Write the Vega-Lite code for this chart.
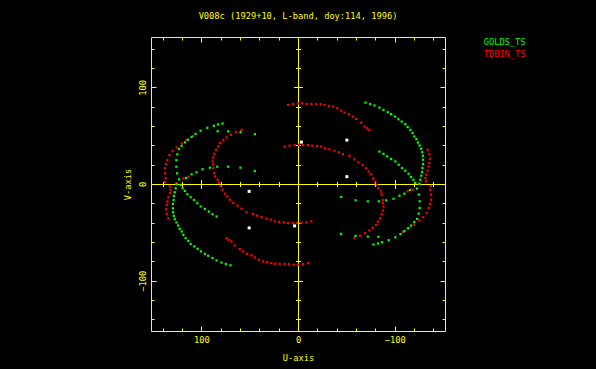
{
"$schema":"https://vega.github.io/schema/vega-lite/v6.json",
"width":294,"height":294,
"autosize":{"type":"none"},
"padding":{"left":151,"top":37,"right":151,"bottom":38},
"background":"black",
"title":{"text":"V008c (1929+10, L-band, doy:114, 1996)","color":"#ffff00","font":"DejaVu Sans Mono","fontSize":8.7,"fontWeight":"normal","anchor":"middle","offset":16},
"config":{"view":{"stroke":null},"axis":{"grid":false,"domainColor":"#ffff00","tickColor":"#ffff00","labelColor":"#ffff00","titleColor":"#ffff00","labelFont":"DejaVu Sans Mono","titleFont":"DejaVu Sans Mono","labelFontSize":8.7,"titleFontSize":8.7,"titleFontWeight":"normal","domainWidth":1,"tickWidth":1}},
"data":{"values":[
{"u":10.3,"v":81.8,"s":"TDBIN_TS"},{"u":5.2,"v":82.8,"s":"TDBIN_TS"},{"u":0,"v":83.5,"s":"TDBIN_TS"},{"u":-4.5,"v":83.5,"s":"TDBIN_TS"},{"u":-9.3,"v":82.8,"s":"TDBIN_TS"},{"u":-13.8,"v":82.8,"s":"TDBIN_TS"},{"u":-19.0,"v":82.5,"s":"TDBIN_TS"},{"u":-23.4,"v":82.5,"s":"TDBIN_TS"},{"u":-27.5,"v":81.8,"s":"TDBIN_TS"},{"u":-31.9,"v":80.7,"s":"TDBIN_TS"},{"u":-36.1,"v":80.0,"s":"TDBIN_TS"},{"u":-40.6,"v":78.4,"s":"TDBIN_TS"},{"u":-44.7,"v":75.9,"s":"TDBIN_TS"},{"u":-48.1,"v":73.8,"s":"TDBIN_TS"},{"u":-52.6,"v":72.2,"s":"TDBIN_TS"},{"u":-56.7,"v":69.7,"s":"TDBIN_TS"},{"u":-60.2,"v":67.3,"s":"TDBIN_TS"},{"u":-65.4,"v":63.5,"s":"TDBIN_TS"},{"u":-68.8,"v":59.4,"s":"TDBIN_TS"},{"u":-71.6,"v":57.7,"s":"TDBIN_TS"},{"u":-73.9,"v":56.0,"s":"TDBIN_TS"},
{"u":-10.3,"v":-81.8,"s":"TDBIN_TS"},{"u":-5.2,"v":-82.8,"s":"TDBIN_TS"},{"u":0,"v":-83.5,"s":"TDBIN_TS"},{"u":4.5,"v":-83.5,"s":"TDBIN_TS"},{"u":9.3,"v":-82.8,"s":"TDBIN_TS"},{"u":13.8,"v":-82.8,"s":"TDBIN_TS"},{"u":19.0,"v":-82.5,"s":"TDBIN_TS"},{"u":23.4,"v":-82.5,"s":"TDBIN_TS"},{"u":27.5,"v":-81.8,"s":"TDBIN_TS"},{"u":31.9,"v":-80.7,"s":"TDBIN_TS"},{"u":36.1,"v":-80.0,"s":"TDBIN_TS"},{"u":40.6,"v":-78.4,"s":"TDBIN_TS"},{"u":44.7,"v":-75.9,"s":"TDBIN_TS"},{"u":48.1,"v":-73.8,"s":"TDBIN_TS"},{"u":52.6,"v":-72.2,"s":"TDBIN_TS"},{"u":56.7,"v":-69.7,"s":"TDBIN_TS"},{"u":60.2,"v":-67.3,"s":"TDBIN_TS"},{"u":65.4,"v":-63.5,"s":"TDBIN_TS"},{"u":68.8,"v":-59.4,"s":"TDBIN_TS"},{"u":71.6,"v":-57.7,"s":"TDBIN_TS"},{"u":73.9,"v":-56.0,"s":"TDBIN_TS"},
{"u":58.4,"v":56.0,"s":"TDBIN_TS"},{"u":64.2,"v":53.6,"s":"TDBIN_TS"},{"u":69.4,"v":50.8,"s":"TDBIN_TS"},{"u":73.8,"v":48.1,"s":"TDBIN_TS"},{"u":77.3,"v":45.4,"s":"TDBIN_TS"},{"u":80.7,"v":42.3,"s":"TDBIN_TS"},{"u":82.5,"v":38.8,"s":"TDBIN_TS"},{"u":84.8,"v":35.4,"s":"TDBIN_TS"},{"u":86.6,"v":31.2,"s":"TDBIN_TS"},{"u":87.6,"v":27.4,"s":"TDBIN_TS"},{"u":88.3,"v":23.3,"s":"TDBIN_TS"},{"u":87.6,"v":19.9,"s":"TDBIN_TS"},{"u":87.6,"v":16.5,"s":"TDBIN_TS"},{"u":86.6,"v":11.3,"s":"TDBIN_TS"},{"u":85.9,"v":7.8,"s":"TDBIN_TS"},{"u":83.1,"v":4.4,"s":"TDBIN_TS"},{"u":81.5,"v":1.0,"s":"TDBIN_TS"},{"u":80.0,"v":-2.5,"s":"TDBIN_TS"},{"u":77.9,"v":-5.9,"s":"TDBIN_TS"},{"u":75.5,"v":-10.0,"s":"TDBIN_TS"},{"u":73.1,"v":-12.8,"s":"TDBIN_TS"},{"u":70.4,"v":-16.2,"s":"TDBIN_TS"},{"u":66.9,"v":-19.6,"s":"TDBIN_TS"},{"u":62.5,"v":-22.4,"s":"TDBIN_TS"},{"u":58.4,"v":-25.5,"s":"TDBIN_TS"},{"u":53.2,"v":-29.3,"s":"TDBIN_TS"},{"u":46.4,"v":-30.9,"s":"TDBIN_TS"},{"u":42.3,"v":-32.7,"s":"TDBIN_TS"},{"u":37.7,"v":-34.4,"s":"TDBIN_TS"},{"u":32.6,"v":-35.8,"s":"TDBIN_TS"},{"u":28.1,"v":-36.8,"s":"TDBIN_TS"},{"u":24.0,"v":-38.6,"s":"TDBIN_TS"},{"u":19.6,"v":-39.2,"s":"TDBIN_TS"},{"u":14.7,"v":-39.6,"s":"TDBIN_TS"},{"u":10.3,"v":-40.2,"s":"TDBIN_TS"},{"u":5.2,"v":-40.2,"s":"TDBIN_TS"},{"u":1.0,"v":-40.2,"s":"TDBIN_TS"},{"u":-3.5,"v":-40.2,"s":"TDBIN_TS"},{"u":-8.7,"v":-39.6,"s":"TDBIN_TS"},{"u":-13.8,"v":-38.6,"s":"TDBIN_TS"},
{"u":-58.4,"v":-56.0,"s":"TDBIN_TS"},{"u":-64.2,"v":-53.6,"s":"TDBIN_TS"},{"u":-69.4,"v":-50.8,"s":"TDBIN_TS"},{"u":-73.8,"v":-48.1,"s":"TDBIN_TS"},{"u":-77.3,"v":-45.4,"s":"TDBIN_TS"},{"u":-80.7,"v":-42.3,"s":"TDBIN_TS"},{"u":-82.5,"v":-38.8,"s":"TDBIN_TS"},{"u":-84.8,"v":-35.4,"s":"TDBIN_TS"},{"u":-86.6,"v":-31.2,"s":"TDBIN_TS"},{"u":-87.6,"v":-27.4,"s":"TDBIN_TS"},{"u":-88.3,"v":-23.3,"s":"TDBIN_TS"},{"u":-87.6,"v":-19.9,"s":"TDBIN_TS"},{"u":-87.6,"v":-16.5,"s":"TDBIN_TS"},{"u":-86.6,"v":-11.3,"s":"TDBIN_TS"},{"u":-85.9,"v":-7.8,"s":"TDBIN_TS"},{"u":-83.1,"v":-4.4,"s":"TDBIN_TS"},{"u":-81.5,"v":-1.0,"s":"TDBIN_TS"},{"u":-80.0,"v":2.5,"s":"TDBIN_TS"},{"u":-77.9,"v":5.9,"s":"TDBIN_TS"},{"u":-75.5,"v":10.0,"s":"TDBIN_TS"},{"u":-73.1,"v":12.8,"s":"TDBIN_TS"},{"u":-70.4,"v":16.2,"s":"TDBIN_TS"},{"u":-66.9,"v":19.6,"s":"TDBIN_TS"},{"u":-62.5,"v":22.4,"s":"TDBIN_TS"},{"u":-58.4,"v":25.5,"s":"TDBIN_TS"},{"u":-53.2,"v":29.3,"s":"TDBIN_TS"},{"u":-46.4,"v":30.9,"s":"TDBIN_TS"},{"u":-42.3,"v":32.7,"s":"TDBIN_TS"},{"u":-37.7,"v":34.4,"s":"TDBIN_TS"},{"u":-32.6,"v":35.8,"s":"TDBIN_TS"},{"u":-28.1,"v":36.8,"s":"TDBIN_TS"},{"u":-24.0,"v":38.6,"s":"TDBIN_TS"},{"u":-19.6,"v":39.2,"s":"TDBIN_TS"},{"u":-14.7,"v":39.6,"s":"TDBIN_TS"},{"u":-10.3,"v":40.2,"s":"TDBIN_TS"},{"u":-5.2,"v":40.2,"s":"TDBIN_TS"},{"u":-1.0,"v":40.2,"s":"TDBIN_TS"},{"u":3.5,"v":40.2,"s":"TDBIN_TS"},{"u":8.7,"v":39.6,"s":"TDBIN_TS"},{"u":13.8,"v":38.6,"s":"TDBIN_TS"},
{"u":-134.0,"v":35.4,"s":"TDBIN_TS"},{"u":-135.8,"v":30.9,"s":"TDBIN_TS"},{"u":-136.5,"v":26.1,"s":"TDBIN_TS"},{"u":-135.8,"v":21.7,"s":"TDBIN_TS"},{"u":-135.1,"v":18.1,"s":"TDBIN_TS"},{"u":-134.0,"v":13.7,"s":"TDBIN_TS"},{"u":-132.4,"v":9.6,"s":"TDBIN_TS"},{"u":-131.7,"v":6.2,"s":"TDBIN_TS"},{"u":-132.4,"v":2.7,"s":"TDBIN_TS"},{"u":-125.5,"v":-0.7,"s":"TDBIN_TS"},{"u":-118.6,"v":-5.9,"s":"TDBIN_TS"},{"u":-113.4,"v":-7.6,"s":"TDBIN_TS"},
{"u":-137.3,"v":-2.0,"s":"TDBIN_TS"},{"u":-136.8,"v":-5.9,"s":"TDBIN_TS"},{"u":-137.5,"v":-11.0,"s":"TDBIN_TS"},{"u":-137.5,"v":-16.2,"s":"TDBIN_TS"},{"u":-136.5,"v":-20.6,"s":"TDBIN_TS"},{"u":-135.1,"v":-24.7,"s":"TDBIN_TS"},{"u":-133.0,"v":-29.9,"s":"TDBIN_TS"},{"u":-129.6,"v":-34.4,"s":"TDBIN_TS"},{"u":-125.5,"v":-37.8,"s":"TDBIN_TS"},{"u":-120.3,"v":-42.0,"s":"TDBIN_TS"},{"u":-115.2,"v":-45.4,"s":"TDBIN_TS"},{"u":-108.3,"v":-49.5,"s":"TDBIN_TS"},
{"u":134.0,"v":-35.4,"s":"TDBIN_TS"},{"u":135.8,"v":-30.9,"s":"TDBIN_TS"},{"u":136.5,"v":-26.1,"s":"TDBIN_TS"},{"u":135.8,"v":-21.7,"s":"TDBIN_TS"},{"u":135.1,"v":-18.1,"s":"TDBIN_TS"},{"u":134.0,"v":-13.7,"s":"TDBIN_TS"},{"u":132.4,"v":-9.6,"s":"TDBIN_TS"},{"u":131.7,"v":-6.2,"s":"TDBIN_TS"},{"u":132.4,"v":-2.7,"s":"TDBIN_TS"},{"u":125.5,"v":0.7,"s":"TDBIN_TS"},{"u":118.6,"v":5.9,"s":"TDBIN_TS"},{"u":113.4,"v":7.6,"s":"TDBIN_TS"},
{"u":137.3,"v":2.0,"s":"TDBIN_TS"},{"u":136.8,"v":5.9,"s":"TDBIN_TS"},{"u":137.5,"v":11.0,"s":"TDBIN_TS"},{"u":137.5,"v":16.2,"s":"TDBIN_TS"},{"u":136.5,"v":20.6,"s":"TDBIN_TS"},{"u":135.1,"v":24.7,"s":"TDBIN_TS"},{"u":133.0,"v":29.9,"s":"TDBIN_TS"},{"u":129.6,"v":34.4,"s":"TDBIN_TS"},{"u":125.5,"v":37.8,"s":"TDBIN_TS"},{"u":120.3,"v":42.0,"s":"TDBIN_TS"},{"u":115.2,"v":45.4,"s":"TDBIN_TS"},{"u":108.3,"v":49.5,"s":"TDBIN_TS"},
{"u":-69.8,"v":84.1,"s":"GOLDS_TS"},{"u":-74.6,"v":82.7,"s":"GOLDS_TS"},{"u":-79.1,"v":81.2,"s":"GOLDS_TS"},{"u":-84.2,"v":79.0,"s":"GOLDS_TS"},{"u":-88.4,"v":76.6,"s":"GOLDS_TS"},{"u":-92.8,"v":74.2,"s":"GOLDS_TS"},{"u":-96.3,"v":72.2,"s":"GOLDS_TS"},{"u":-100.4,"v":69.7,"s":"GOLDS_TS"},{"u":-103.8,"v":67.0,"s":"GOLDS_TS"},{"u":-107.2,"v":64.5,"s":"GOLDS_TS"},{"u":-111.0,"v":61.9,"s":"GOLDS_TS"},{"u":-113.4,"v":58.8,"s":"GOLDS_TS"},{"u":-116.2,"v":56.0,"s":"GOLDS_TS"},{"u":-118.5,"v":52.6,"s":"GOLDS_TS"},{"u":-120.3,"v":49.1,"s":"GOLDS_TS"},{"u":-122.4,"v":46.4,"s":"GOLDS_TS"},{"u":-124.0,"v":42.9,"s":"GOLDS_TS"},{"u":-125.7,"v":39.8,"s":"GOLDS_TS"},{"u":-127.4,"v":36.4,"s":"GOLDS_TS"},{"u":-128.4,"v":33.0,"s":"GOLDS_TS"},{"u":-129.1,"v":29.2,"s":"GOLDS_TS"},{"u":-129.3,"v":25.1,"s":"GOLDS_TS"},{"u":-129.3,"v":20.6,"s":"GOLDS_TS"},{"u":-128.6,"v":16.5,"s":"GOLDS_TS"},{"u":-128.3,"v":12.4,"s":"GOLDS_TS"},{"u":-127.5,"v":8.6,"s":"GOLDS_TS"},{"u":-126.5,"v":4.4,"s":"GOLDS_TS"},{"u":-125.5,"v":0.3,"s":"GOLDS_TS"},
{"u":69.8,"v":-84.1,"s":"GOLDS_TS"},{"u":74.6,"v":-82.7,"s":"GOLDS_TS"},{"u":79.1,"v":-81.2,"s":"GOLDS_TS"},{"u":84.2,"v":-79.0,"s":"GOLDS_TS"},{"u":88.4,"v":-76.6,"s":"GOLDS_TS"},{"u":92.8,"v":-74.2,"s":"GOLDS_TS"},{"u":96.3,"v":-72.2,"s":"GOLDS_TS"},{"u":100.4,"v":-69.7,"s":"GOLDS_TS"},{"u":103.8,"v":-67.0,"s":"GOLDS_TS"},{"u":107.2,"v":-64.5,"s":"GOLDS_TS"},{"u":111.0,"v":-61.9,"s":"GOLDS_TS"},{"u":113.4,"v":-58.8,"s":"GOLDS_TS"},{"u":116.2,"v":-56.0,"s":"GOLDS_TS"},{"u":118.5,"v":-52.6,"s":"GOLDS_TS"},{"u":120.3,"v":-49.1,"s":"GOLDS_TS"},{"u":122.4,"v":-46.4,"s":"GOLDS_TS"},{"u":124.0,"v":-42.9,"s":"GOLDS_TS"},{"u":125.7,"v":-39.8,"s":"GOLDS_TS"},{"u":127.4,"v":-36.4,"s":"GOLDS_TS"},{"u":128.4,"v":-33.0,"s":"GOLDS_TS"},{"u":129.1,"v":-29.2,"s":"GOLDS_TS"},{"u":129.3,"v":-25.1,"s":"GOLDS_TS"},{"u":129.3,"v":-20.6,"s":"GOLDS_TS"},{"u":128.6,"v":-16.5,"s":"GOLDS_TS"},{"u":128.3,"v":-12.4,"s":"GOLDS_TS"},{"u":127.5,"v":-8.6,"s":"GOLDS_TS"},{"u":126.5,"v":-4.4,"s":"GOLDS_TS"},{"u":125.5,"v":-0.3,"s":"GOLDS_TS"},
{"u":-78.0,"v":-62.6,"s":"GOLDS_TS"},{"u":-82.7,"v":-61.6,"s":"GOLDS_TS"},{"u":-87.0,"v":-60.2,"s":"GOLDS_TS"},{"u":-93.8,"v":-58.1,"s":"GOLDS_TS"},{"u":-100.7,"v":-55.1,"s":"GOLDS_TS"},{"u":-105.9,"v":-51.8,"s":"GOLDS_TS"},{"u":-110.0,"v":-48.7,"s":"GOLDS_TS"},{"u":-113.6,"v":-45.8,"s":"GOLDS_TS"},{"u":-116.9,"v":-43.0,"s":"GOLDS_TS"},{"u":-120.3,"v":-39.4,"s":"GOLDS_TS"},{"u":-123.1,"v":-36.1,"s":"GOLDS_TS"},{"u":-124.8,"v":-30.6,"s":"GOLDS_TS"},{"u":-125.8,"v":-24.7,"s":"GOLDS_TS"},{"u":-125.8,"v":-17.9,"s":"GOLDS_TS"},{"u":-125.0,"v":-11.0,"s":"GOLDS_TS"},{"u":-122.9,"v":-4.8,"s":"GOLDS_TS"},{"u":-121.3,"v":1.0,"s":"GOLDS_TS"},{"u":-119.3,"v":4.4,"s":"GOLDS_TS"},{"u":-116.9,"v":7.2,"s":"GOLDS_TS"},{"u":-114.4,"v":10.6,"s":"GOLDS_TS"},{"u":-111.0,"v":13.7,"s":"GOLDS_TS"},{"u":-107.6,"v":16.5,"s":"GOLDS_TS"},{"u":-104.1,"v":19.9,"s":"GOLDS_TS"},{"u":-100.7,"v":23.3,"s":"GOLDS_TS"},{"u":-96.3,"v":25.8,"s":"GOLDS_TS"},{"u":-92.2,"v":28.5,"s":"GOLDS_TS"},{"u":-88.4,"v":31.2,"s":"GOLDS_TS"},{"u":-84.2,"v":33.6,"s":"GOLDS_TS"},
{"u":78.0,"v":62.6,"s":"GOLDS_TS"},{"u":82.7,"v":61.6,"s":"GOLDS_TS"},{"u":87.0,"v":60.2,"s":"GOLDS_TS"},{"u":93.8,"v":58.1,"s":"GOLDS_TS"},{"u":100.7,"v":55.1,"s":"GOLDS_TS"},{"u":105.9,"v":51.8,"s":"GOLDS_TS"},{"u":110.0,"v":48.7,"s":"GOLDS_TS"},{"u":113.6,"v":45.8,"s":"GOLDS_TS"},{"u":116.9,"v":43.0,"s":"GOLDS_TS"},{"u":120.3,"v":39.4,"s":"GOLDS_TS"},{"u":123.1,"v":36.1,"s":"GOLDS_TS"},{"u":124.8,"v":30.6,"s":"GOLDS_TS"},{"u":125.8,"v":24.7,"s":"GOLDS_TS"},{"u":125.8,"v":17.9,"s":"GOLDS_TS"},{"u":125.0,"v":11.0,"s":"GOLDS_TS"},{"u":122.9,"v":4.8,"s":"GOLDS_TS"},{"u":121.3,"v":-1.0,"s":"GOLDS_TS"},{"u":119.3,"v":-4.4,"s":"GOLDS_TS"},{"u":116.9,"v":-7.2,"s":"GOLDS_TS"},{"u":114.4,"v":-10.6,"s":"GOLDS_TS"},{"u":111.0,"v":-13.7,"s":"GOLDS_TS"},{"u":107.6,"v":-16.5,"s":"GOLDS_TS"},{"u":104.1,"v":-19.9,"s":"GOLDS_TS"},{"u":100.7,"v":-23.3,"s":"GOLDS_TS"},{"u":96.3,"v":-25.8,"s":"GOLDS_TS"},{"u":92.2,"v":-28.5,"s":"GOLDS_TS"},{"u":88.4,"v":-31.2,"s":"GOLDS_TS"},{"u":84.2,"v":-33.6,"s":"GOLDS_TS"},
{"u":-44.7,"v":-13.4,"s":"GOLDS_TS"},{"u":-59.5,"v":-16.9,"s":"GOLDS_TS"},{"u":-72.2,"v":-17.9,"s":"GOLDS_TS"},{"u":-83.5,"v":-17.9,"s":"GOLDS_TS"},{"u":-91.1,"v":-16.9,"s":"GOLDS_TS"},{"u":-98.7,"v":-15.2,"s":"GOLDS_TS"},{"u":-104.9,"v":-12.1,"s":"GOLDS_TS"},{"u":-110.0,"v":-10.0,"s":"GOLDS_TS"},{"u":-115.8,"v":-6.2,"s":"GOLDS_TS"},
{"u":44.7,"v":13.4,"s":"GOLDS_TS"},{"u":59.5,"v":16.9,"s":"GOLDS_TS"},{"u":72.2,"v":17.9,"s":"GOLDS_TS"},{"u":83.5,"v":17.9,"s":"GOLDS_TS"},{"u":91.1,"v":16.9,"s":"GOLDS_TS"},{"u":98.7,"v":15.2,"s":"GOLDS_TS"},{"u":104.9,"v":12.1,"s":"GOLDS_TS"},{"u":110.0,"v":10.0,"s":"GOLDS_TS"},{"u":115.8,"v":6.2,"s":"GOLDS_TS"},
{"u":83.1,"v":54.6,"s":"GOLDS_TS"},{"u":72.2,"v":54.4,"s":"GOLDS_TS"},{"u":59.4,"v":53.6,"s":"GOLDS_TS"},{"u":44.6,"v":51.6,"s":"GOLDS_TS"},
{"u":-83.1,"v":-54.6,"s":"GOLDS_TS"},{"u":-72.2,"v":-54.4,"s":"GOLDS_TS"},{"u":-59.4,"v":-53.6,"s":"GOLDS_TS"},{"u":-44.6,"v":-51.6,"s":"GOLDS_TS"},
{"u":50.5,"v":-7.6,"s":"W"},{"u":50.5,"v":-45.4,"s":"W"},{"u":-3.5,"v":43.3,"s":"W"},{"u":-50.5,"v":7.6,"s":"W"},{"u":-50.5,"v":45.4,"s":"W"},{"u":3.5,"v":-43.3,"s":"W"}
]},
"layer":[
{"mark":{"type":"point","shape":"square","filled":true,"size":5,"opacity":1},
"encoding":{
"x":{"field":"u","type":"quantitative","scale":{"domain":[152,-152],"nice":false,"zero":false},
"axis":{"orient":"bottom","values":[-140,-120,-100,-80,-60,-40,-20,0,20,40,60,80,100,120,140],"tickSize":{"condition":{"test":"datum.value % 100 === 0","value":-5},"value":-3},"labelExpr":"datum.value % 100 === 0 ? datum.label : ''","labelPadding":9,"title":"U-axis","titlePadding":10}},
"y":{"field":"v","type":"quantitative","scale":{"domain":[-152,152],"nice":false,"zero":false},
"axis":{"orient":"left","values":[-140,-120,-100,-80,-60,-40,-20,0,20,40,60,80,100,120,140],"tickSize":{"condition":{"test":"datum.value % 100 === 0","value":-5},"value":-3},"labelExpr":"datum.value % 100 === 0 ? datum.label : ''","labelAngle":-90,"labelPadding":9,"title":"V-axis","titlePadding":6}},
"color":{"field":"s","type":"nominal","scale":{"domain":["GOLDS_TS","TDBIN_TS","W"],"range":["#00ff00","#ff0000","#ffffff"]},
"legend":{"values":["GOLDS_TS","TDBIN_TS"],"orient":"none","legendX":324,"legendY":1,"title":null,"padding":0,"symbolSize":0,"symbolOpacity":0,"symbolStrokeWidth":0,"labelOffset":0,"rowPadding":1.8,"labelFont":"DejaVu Sans Mono","labelFontSize":8.7,"labelColor":{"expr":"datum.value === 'GOLDS_TS' ? '#00ff00' : '#ff0000'"}}},
"size":{"condition":{"test":"datum.s === 'W'","value":9},"value":5}
}},
{"transform":[{"filter":"datum.s === 'W'"}],"mark":{"type":"point","opacity":0},
"encoding":{
"x":{"field":"u","type":"quantitative","axis":{"orient":"top","values":[-140,-120,-100,-80,-60,-40,-20,0,20,40,60,80,100,120,140],"tickSize":{"condition":{"test":"datum.value % 100 === 0","value":-5},"value":-3},"labels":false,"title":null}},
"y":{"field":"v","type":"quantitative","axis":{"orient":"right","values":[-140,-120,-100,-80,-60,-40,-20,0,20,40,60,80,100,120,140],"tickSize":{"condition":{"test":"datum.value % 100 === 0","value":-5},"value":-3},"labels":false,"title":null}}
}},
{"transform":[{"filter":"datum.s === 'W'"}],"mark":{"type":"point","opacity":0},
"encoding":{
"x":{"field":"u","type":"quantitative","axis":{"orient":"bottom","offset":-147,"values":[-140,-120,-100,-80,-60,-40,-20,0,20,40,60,80,100,120,140],"tickSize":{"condition":{"test":"datum.value % 100 === 0","value":4.5},"value":2.5},"labels":false,"title":null}},
"y":{"field":"v","type":"quantitative","axis":{"orient":"left","offset":-147,"values":[-140,-120,-100,-80,-60,-40,-20,0,20,40,60,80,100,120,140],"tickSize":{"condition":{"test":"datum.value % 100 === 0","value":4.5},"value":2.5},"labels":false,"title":null}}
}},
{"transform":[{"filter":"datum.s === 'W'"}],"mark":{"type":"point","opacity":0},
"encoding":{
"x":{"field":"u","type":"quantitative","axis":{"orient":"top","offset":-147,"values":[-140,-120,-100,-80,-60,-40,-20,0,20,40,60,80,100,120,140],"tickSize":{"condition":{"test":"datum.value % 100 === 0","value":4.5},"value":2.5},"labels":false,"title":null}},
"y":{"field":"v","type":"quantitative","axis":{"orient":"right","offset":-147,"values":[-140,-120,-100,-80,-60,-40,-20,0,20,40,60,80,100,120,140],"tickSize":{"condition":{"test":"datum.value % 100 === 0","value":4.5},"value":2.5},"labels":false,"title":null}}
}}
],
"resolve":{"scale":{"x":"shared","y":"shared"},"axis":{"x":"independent","y":"independent"}}
}
